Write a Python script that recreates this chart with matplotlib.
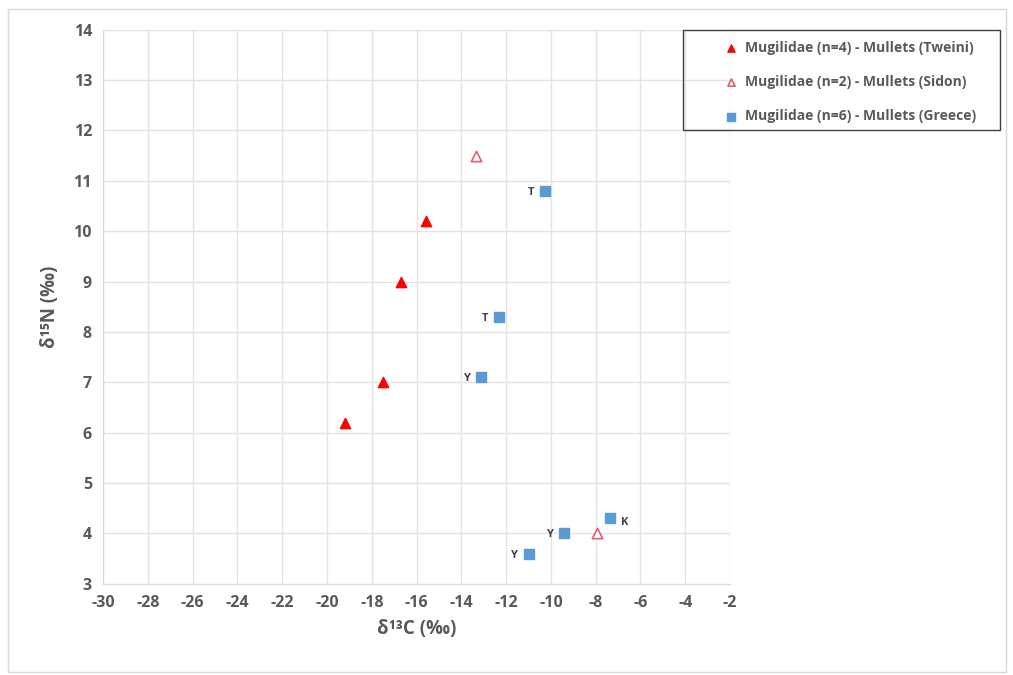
import matplotlib.pyplot as plt
from matplotlib.patches import Rectangle

# data
tweini_c = [-19.2, -17.5, -16.7, -15.6]
tweini_n = [6.2, 7.0, 9.0, 10.2]

sidon_c = [-13.35, -7.95]
sidon_n = [11.5, 4.0]

greece_c = [-10.25, -12.3, -13.1, -9.4, -11.0, -7.35]
greece_n = [10.8, 8.3, 7.1, 4.0, 3.6, 4.3]
greece_tags = ['T', 'T', 'Y', 'Y', 'Y', 'K']

plt.rcParams['font.family'] = ['Open Sans', 'DejaVu Sans']
plt.rcParams['axes.unicode_minus'] = False
grey = '#595959'

fig = plt.figure(figsize=(10.13, 6.75), dpi=100)
fig.patches.append(Rectangle((0.008, 0.004), 0.985, 0.982, transform=fig.transFigure,
                             fill=False, edgecolor='#d9d9d9', linewidth=1))
# legend box
fig.patches.append(Rectangle((683 / 1013, 1 - 130 / 675), 317 / 1013, 100 / 675,
                             transform=fig.transFigure, fill=False,
                             edgecolor='#404040', linewidth=1, zorder=5))
ax = fig.add_axes([0.1017, 0.135, 0.619, 0.821])

ax.scatter(tweini_c, tweini_n, marker='^', s=55, color='#ff0000', zorder=3,
           label='Mugilidae (n=4) - Mullets (Tweini)')
ax.scatter(sidon_c, sidon_n, marker='^', s=55, facecolor='white', edgecolor='#e06070',
           linewidth=1.2, zorder=3, label='Mugilidae (n=2) - Mullets (Sidon)')
ax.scatter(greece_c, greece_n, marker='s', s=55, color='#5b9bd5', zorder=3,
           label='Mugilidae (n=6) - Mullets (Greece)')

for c, n, t in zip(greece_c, greece_n, greece_tags):
    if t == 'K':
        ax.annotate(t, (c, n), xytext=(8, -3), textcoords='offset points',
                    ha='left', va='center', fontsize=8, fontweight='bold', color='#404040')
    else:
        ax.annotate(t, (c, n), xytext=(-8, -1), textcoords='offset points',
                    ha='right', va='center', fontsize=8, fontweight='bold', color='#404040')

ax.set_xlim(-30, -2)
ax.set_ylim(3, 14)
ax.set_xticks(range(-30, -1, 2))
ax.set_yticks(range(3, 15))
ax.grid(True, color='#e3e3e3', linewidth=1)
ax.set_axisbelow(True)
for side in ['top', 'right']:
    ax.spines[side].set_visible(False)
for side in ['left', 'bottom']:
    ax.spines[side].set_color('#d9d9d9')
ax.tick_params(length=0, pad=8, labelsize=11.5, colors=grey)
for lbl in ax.get_xticklabels() + ax.get_yticklabels():
    lbl.set_fontweight('bold')

ax.set_xlabel('δ¹³C (‰)', fontsize=13.5, fontweight='bold', color=grey, labelpad=6)
ax.set_ylabel('δ¹⁵N (‰)', fontsize=13.5, fontweight='bold', color=grey, labelpad=10)

leg = fig.legend(loc='upper left', bbox_to_anchor=(724 / 1013, 1 - 41 / 675), fontsize=10,
                 frameon=False, borderpad=0, labelspacing=1.45, handletextpad=0.5,
                 markerscale=0.7, borderaxespad=0, handlelength=1.0)
for txt in leg.get_texts():
    txt.set_color(grey)
    txt.set_fontweight('bold')

fig.savefig('out.png', dpi=100)
